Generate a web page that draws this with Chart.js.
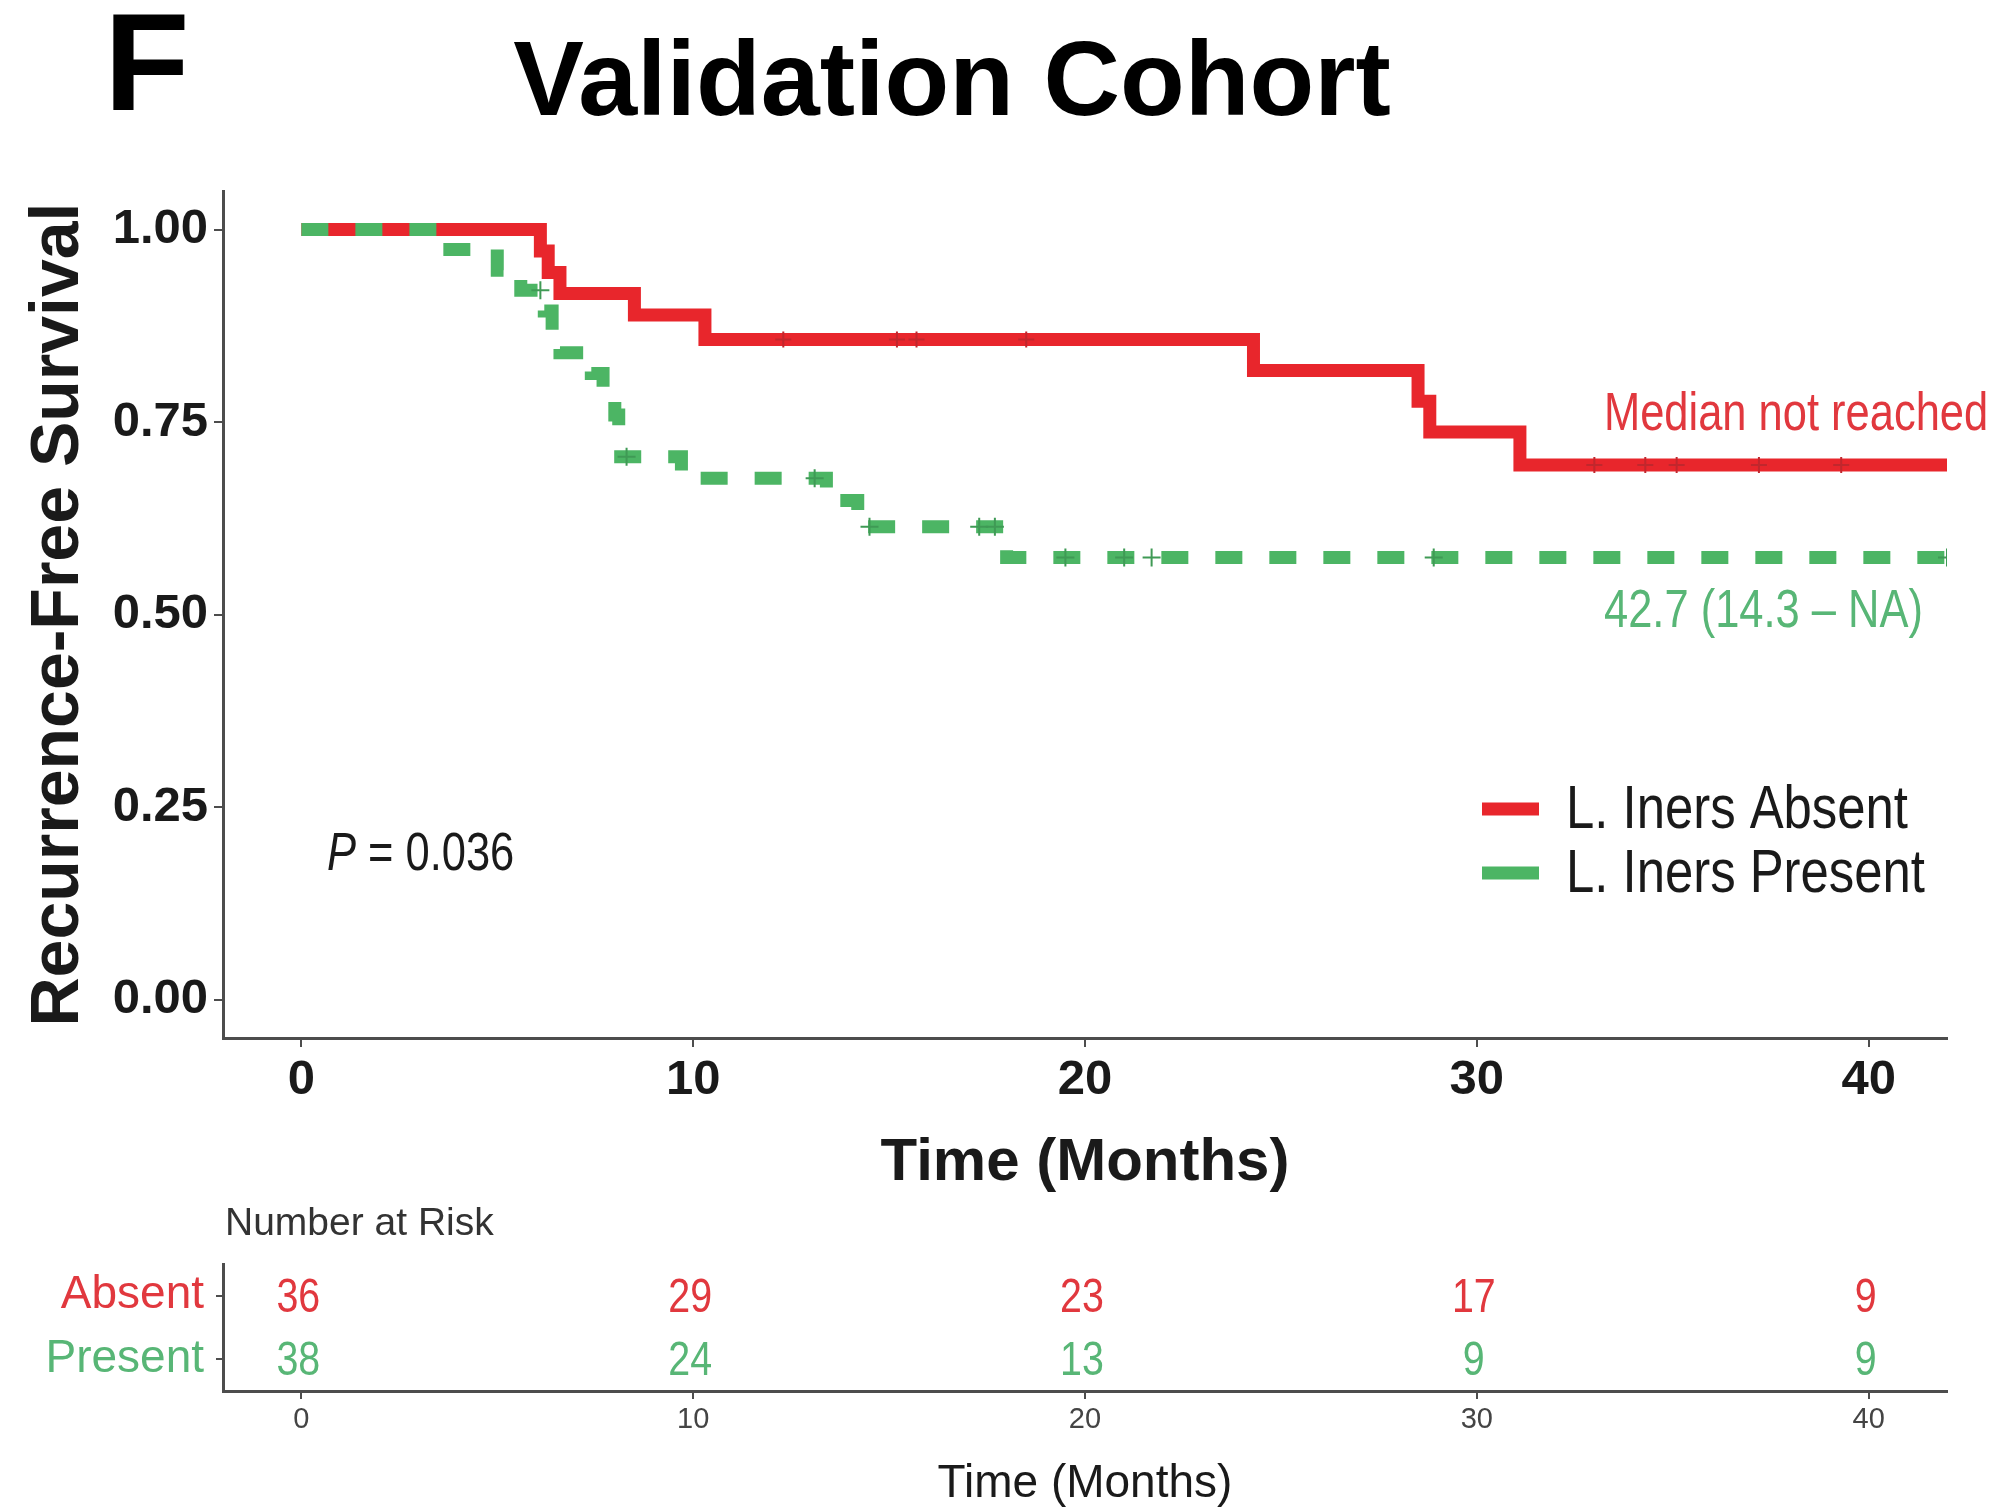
<!DOCTYPE html>
<html>
<head>
<meta charset="utf-8">
<title>Validation Cohort</title>
<script src="https://cdn.jsdelivr.net/npm/chart.js@4.4.1/dist/chart.umd.min.js"></script>
<style>
  html, body { margin: 0; padding: 0; background: #fff; overflow: hidden; }
  #wrap { position: relative; width: 1998px; height: 1511px; overflow: hidden; }
  #wrap canvas { position: absolute; left: 0; }
  #kmCanvas { top: 0; }
  #riskCanvas { top: 1180px; }
</style>
</head>
<body>
<div id="wrap">
  <canvas id="kmCanvas" width="1998" height="1250" style="width:1998px;height:1250px"></canvas>
  <canvas id="riskCanvas" width="1998" height="360" style="width:1998px;height:360px"></canvas>
</div>
<script>
// KM curves (months, survival)
const absentTime = [0, 6.1, 6.3, 6.6, 8.5, 10.3, 24.3, 28.5, 28.8, 31.1, 42];
const absentSurv = [1, 0.972, 0.944, 0.917, 0.889, 0.857, 0.817, 0.777, 0.737, 0.694, 0.694];
const absentCensorTime = [12.3, 15.2, 15.7, 18.5, 33.0, 34.3, 35.1, 37.2, 39.3];
const absentCensorSurv = [0.857, 0.857, 0.857, 0.857, 0.694, 0.694, 0.694, 0.694, 0.694];

const presentTime = [0, 3.5, 5.0, 5.6, 6.2, 6.4, 6.6, 7.4, 7.7, 8.0, 8.1, 8.15, 9.7, 13.4, 14.2, 18.0, 42];
const presentSurv = [1, 0.974, 0.947, 0.921, 0.894, 0.867, 0.840, 0.813, 0.786, 0.759, 0.732, 0.705, 0.677, 0.648, 0.614, 0.574, 0.574];
const presentCensorTime = [6.1, 8.3, 13.1, 14.5, 17.3, 17.7, 19.5, 21.0, 21.7, 28.9, 42];
const presentCensorSurv = [0.921, 0.705, 0.677, 0.614, 0.614, 0.614, 0.574, 0.574, 0.574, 0.574, 0.574];

const groupLabels = ['L. Iners Absent', 'L. Iners Present'];
const xTicks = [0, 10, 20, 30, 40];
const yTicks = [0, 0.25, 0.5, 0.75, 1];

// number at risk table
const riskGroups = ['Absent', 'Present'];
const riskTimes = [0, 10, 20, 30, 40];
const riskAbsent = [36, 29, 23, 17, 9];
const riskPresent = [38, 24, 13, 9, 9];

const RED = '#e8262c';
const GREEN = '#4cb564';
const RED_TXT = '#e1383e';
const GREEN_TXT = '#58b676';
const AXIS = '#4d4d4d';
const INK = '#1a1a1a';
const SANS = "'Liberation Sans', Arial, sans-serif";
const SQUEEZE = 0.82; // the figure's text is set narrow

function toPoints(xs, ys) {
  return xs.map((x, i) => ({ x: x, y: ys[i] }));
}

// fillText squeezed horizontally (uses the maxWidth argument of canvas)
function narrowText(ctx, txt, x, y) {
  const w = ctx.measureText(txt).width;
  ctx.fillText(txt, x, y, w * SQUEEZE);
  return w * SQUEEZE;
}

const kmText = {
  id: 'kmText',
  afterDraw(chart) {
    const ctx = chart.ctx;
    ctx.save();
    ctx.fillStyle = '#000';
    ctx.textBaseline = 'alphabetic';
    ctx.textAlign = 'left';
    ctx.font = 'bold 140px ' + SANS;
    ctx.fillText('F', 104, 110);
    ctx.textAlign = 'center';
    ctx.font = 'bold 106px ' + SANS;
    ctx.fillText('Validation Cohort', 952, 115);

    // median labels
    ctx.textAlign = 'left';
    ctx.font = '53px ' + SANS;
    ctx.fillStyle = RED_TXT;
    narrowText(ctx, 'Median not reached', 1604, 430);
    ctx.fillStyle = GREEN_TXT;
    narrowText(ctx, '42.7 (14.3 \u2013 NA)', 1604, 627);

    // p value
    ctx.fillStyle = INK;
    ctx.font = 'italic 53px ' + SANS;
    const pw = narrowText(ctx, 'P', 327, 870);
    ctx.font = '53px ' + SANS;
    narrowText(ctx, ' = 0.036', 327 + pw, 870);

    // legend
    const ys = [809, 873];
    const cols = [RED, GREEN];
    ctx.lineCap = 'butt';
    ctx.font = '62px ' + SANS;
    ctx.textBaseline = 'middle';
    groupLabels.forEach((lab, i) => {
      ctx.strokeStyle = cols[i];
      ctx.lineWidth = 13;
      ctx.beginPath();
      ctx.moveTo(1482, ys[i]);
      ctx.lineTo(1539, ys[i]);
      ctx.stroke();
      ctx.fillStyle = INK;
      narrowText(ctx, lab, 1566, ys[i] + 2);
    });
    ctx.restore();
  }
};

new Chart(document.getElementById('kmCanvas'), {
  type: 'line',
  data: {
    datasets: [
      {
        label: groupLabels[0],
        data: toPoints(absentTime, absentSurv),
        borderColor: RED,
        borderWidth: 13,
        stepped: 'before',
        pointRadius: 0,
        fill: false,
        borderJoinStyle: 'miter',
        borderCapStyle: 'butt',
        order: 4
      },
      {
        type: 'scatter',
        label: 'censor absent',
        data: toPoints(absentCensorTime, absentCensorSurv),
        pointStyle: 'cross',
        pointRadius: 8,
        borderWidth: 2,
        borderColor: '#c1272d',
        order: 3
      },
      {
        label: groupLabels[1],
        data: toPoints(presentTime, presentSurv),
        borderColor: GREEN,
        borderWidth: 13,
        borderDash: [27, 27],
        stepped: 'before',
        pointRadius: 0,
        fill: false,
        borderJoinStyle: 'miter',
        borderCapStyle: 'butt',
        order: 2
      },
      {
        type: 'scatter',
        label: 'censor present',
        data: toPoints(presentCensorTime, presentCensorSurv),
        pointStyle: 'cross',
        pointRadius: 9,
        borderWidth: 2,
        borderColor: '#3f9a55',
        order: 1
      }
    ]
  },
  options: {
    responsive: false,
    animation: false,
    layout: { padding: { top: 191, right: 51, left: 0, bottom: 0 } },
    plugins: {
      legend: { display: false },
      tooltip: { enabled: false },
      title: { display: false }
    },
    scales: {
      x: {
        type: 'linear',
        min: -2,
        max: 42,
        afterBuildTicks: (s) => { s.ticks = xTicks.map((v) => ({ value: v })); },
        afterFit: (s) => { s.height = 212; },
        grid: { drawOnChartArea: false, tickLength: 9, color: AXIS, lineWidth: 2 },
        border: { display: true, color: AXIS, width: 3 },
        ticks: {
          font: { family: SANS, size: 49, weight: 'bold' },
          color: INK,
          padding: 4,
          maxRotation: 0,
          callback: (v) => String(v)
        },
        title: {
          display: true,
          text: 'Time (Months)',
          font: { family: SANS, size: 60, weight: 'bold' },
          color: INK,
          padding: { top: 0, bottom: 51 }
        }
      },
      y: {
        type: 'linear',
        min: -0.05,
        max: 1.05,
        afterBuildTicks: (s) => { s.ticks = yTicks.map((v) => ({ value: v })); },
        afterFit: (s) => { s.width = 223; },
        grid: { drawOnChartArea: false, tickLength: 9, color: AXIS, lineWidth: 2 },
        border: { display: true, color: AXIS, width: 3 },
        ticks: {
          font: { family: SANS, size: 49, weight: 'bold' },
          color: INK,
          padding: 6,
          callback: (v) => Number(v).toFixed(2)
        },
        title: {
          display: true,
          text: 'Recurrence-Free Survival',
          font: { family: SANS, size: 68, weight: 'bold' },
          color: INK,
          padding: { top: 18, bottom: 0 }
        }
      }
    }
  },
  plugins: [kmText]
});

// risk table: numbers are drawn at the positions of the (invisible) points
const riskLabelsPlugin = {
  id: 'riskLabels',
  afterDatasetsDraw(chart) {
    const ctx = chart.ctx;
    const values = [riskAbsent, riskPresent];
    const cols = [RED_TXT, GREEN_TXT];
    ctx.save();
    ctx.font = '48px ' + SANS;
    ctx.textAlign = 'center';
    ctx.textBaseline = 'middle';
    chart.data.datasets.forEach((ds, di) => {
      const meta = chart.getDatasetMeta(di);
      ctx.fillStyle = cols[di];
      meta.data.forEach((el, i) => {
        narrowText(ctx, String(values[di][i]), el.x - 3, el.y + 3);
      });
    });
    ctx.font = '39px ' + SANS;
    ctx.fillStyle = '#333';
    ctx.textAlign = 'left';
    ctx.textBaseline = 'alphabetic';
    ctx.fillText('Number at Risk', chart.chartArea.left + 2, 55);
    ctx.restore();
  }
};

new Chart(document.getElementById('riskCanvas'), {
  type: 'scatter',
  data: {
    datasets: [
      { label: riskGroups[0], data: riskTimes.map((t) => ({ x: t, y: riskGroups[0] })), pointRadius: 0 },
      { label: riskGroups[1], data: riskTimes.map((t) => ({ x: t, y: riskGroups[1] })), pointRadius: 0 }
    ]
  },
  options: {
    responsive: false,
    animation: false,
    layout: { padding: { top: 84, right: 51, left: 0, bottom: 0 } },
    plugins: {
      legend: { display: false },
      tooltip: { enabled: false }
    },
    scales: {
      x: {
        type: 'linear',
        min: -2,
        max: 42,
        afterBuildTicks: (s) => { s.ticks = riskTimes.map((v) => ({ value: v })); },
        afterFit: (s) => { s.height = 149; },
        grid: { drawOnChartArea: false, tickLength: 8, color: AXIS, lineWidth: 2 },
        border: { display: true, color: AXIS, width: 3 },
        ticks: {
          font: { family: SANS, size: 29 },
          color: '#444',
          padding: 4,
          maxRotation: 0,
          callback: (v) => String(v)
        },
        title: {
          display: true,
          text: 'Time (Months)',
          font: { family: SANS, size: 46 },
          color: INK,
          padding: { top: 0, bottom: 28 }
        }
      },
      y: {
        type: 'category',
        labels: riskGroups,
        offset: true,
        afterFit: (s) => { s.width = 223; },
        grid: { drawOnChartArea: false, tickLength: 7, color: AXIS, lineWidth: 2 },
        border: { display: true, color: AXIS, width: 3 },
        ticks: {
          font: { family: SANS, size: 46 },
          color: (c) => (c.index === 0 ? RED_TXT : GREEN_TXT),
          padding: 12,
          autoSkip: false
        }
      }
    }
  },
  plugins: [riskLabelsPlugin]
});
</script>
</body>
</html>
